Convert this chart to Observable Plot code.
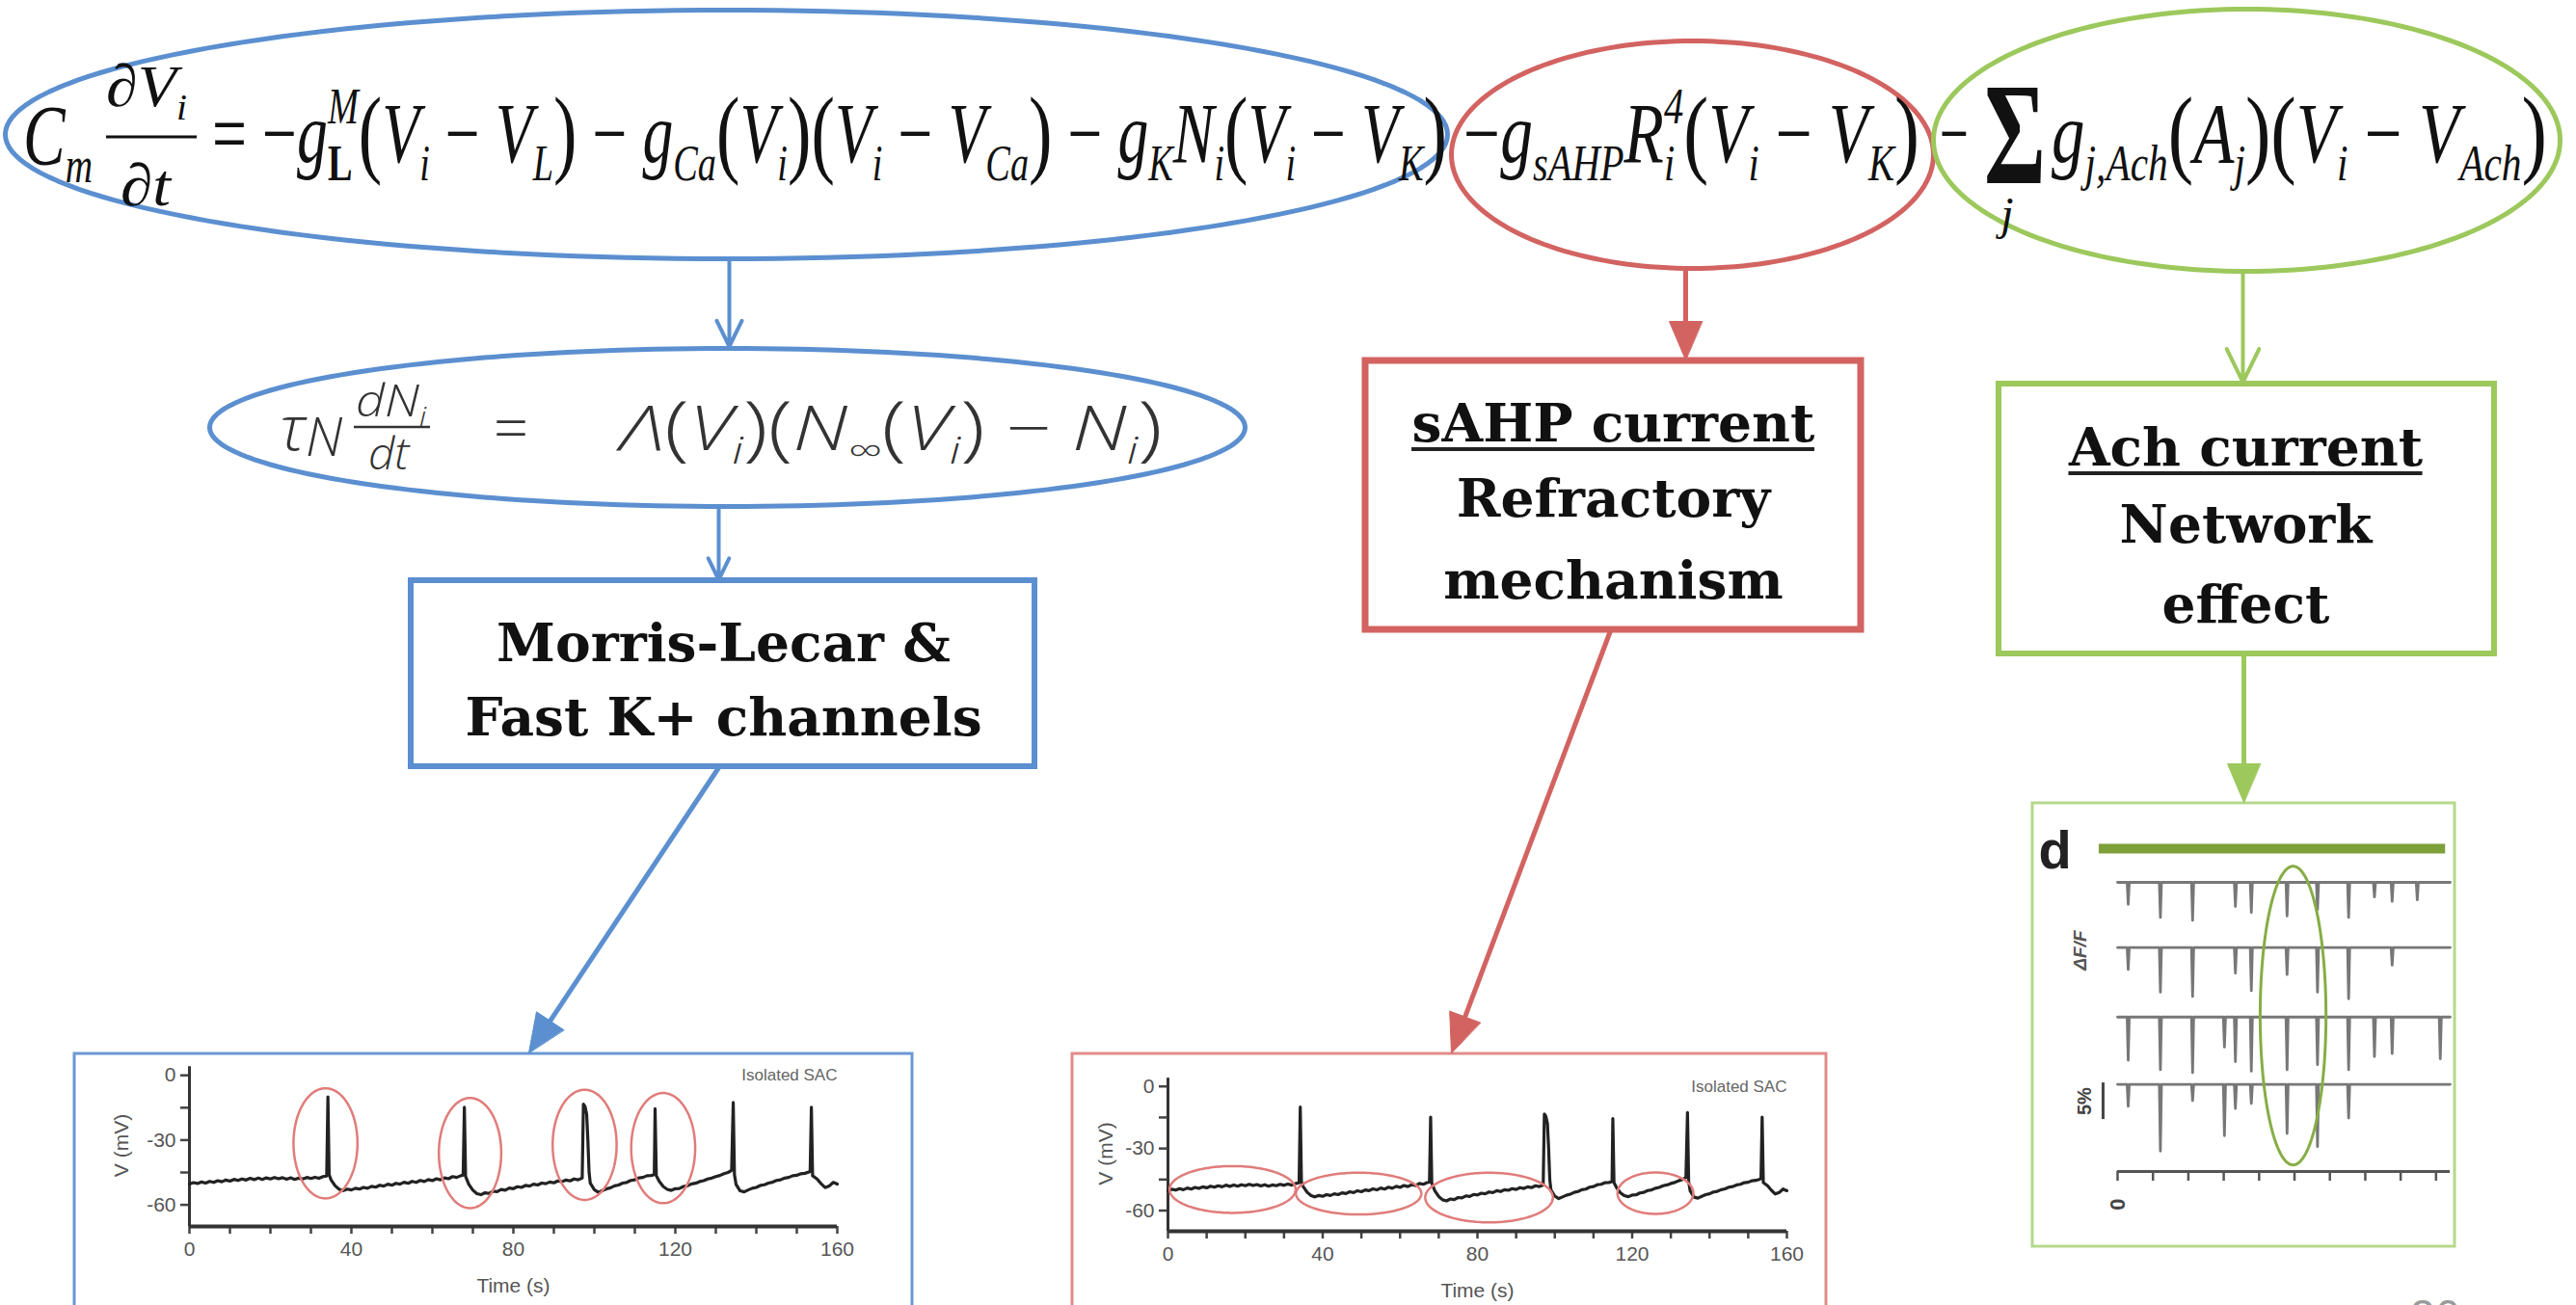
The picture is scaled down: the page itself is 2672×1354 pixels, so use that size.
<!DOCTYPE html>
<html><head><meta charset="utf-8">
<script src="https://cdn.jsdelivr.net/npm/d3@7"></script>
<script src="https://cdn.jsdelivr.net/npm/@observablehq/plot@0.6"></script>
<style>
html,body{margin:0;padding:0;background:#fff;overflow:hidden;}
#page{position:relative;width:2672px;height:1354px;overflow:hidden;background:#fff;}
#page > svg{position:absolute;max-width:none;}
</style></head><body><div id="page"></div>
<script>
// ===================== DATA =====================
// Membrane potential of an isolated SAC (time s, V mV)
const vmTrace = [
 [0,-50.3],[1,-49.7],[2,-50.1],[3,-49.4],[4,-49.9],[5,-49.1],[6,-49.6],[7,-48.8],[8,-49.3],[9,-48.5],
 [10,-49.0],[11,-48.2],[12,-48.7],[13,-48.0],[14,-48.5],[15,-47.7],[16,-48.3],[17,-47.6],[18,-48.2],[19,-47.5],
 [20,-48.0],[21,-47.3],[22,-47.9],[23,-47.4],[24,-48.1],[25,-47.5],[26,-48.2],[27,-47.6],[28,-48.0],[29,-47.3],
 [30,-47.8],[31,-47.2],[32,-47.7],[33,-46.9],[33.9,-46.6],[34.2,-10.0],[34.5,-46.0],
 [35,-48.5],[36,-51.2],[37,-52.8],[38,-53.4],[39,-52.7],[40,-53.1],[41,-52.3],[42,-52.7],[43,-51.9],[44,-52.3],
 [45,-51.4],[46,-51.8],[47,-50.9],[48,-51.3],[49,-50.4],[50,-50.9],[51,-50.0],[52,-50.4],[53,-49.5],[54,-50.0],
 [55,-49.1],[56,-49.6],[57,-48.7],[58,-49.2],[59,-48.3],[60,-48.8],[61,-47.9],[62,-48.4],[63,-47.5],[64,-47.9],
 [65,-46.9],[66,-47.3],[67,-46.5],[67.6,-46.2],[67.9,-14.8],[68.2,-46.8],
 [69,-50.5],[70,-53.2],[71,-54.8],[72,-55.3],[73,-54.4],[74,-54.7],[75,-53.7],[76,-53.9],[77,-52.9],[78,-53.2],
 [79,-52.2],[80,-52.5],[81,-51.6],[82,-51.9],[83,-51.0],[84,-51.3],[85,-50.4],[86,-50.8],[87,-49.9],[88,-50.2],
 [89,-49.4],[90,-49.8],[91,-48.9],[92,-49.3],[93,-48.5],[94,-48.9],[95,-48.0],[96,-48.4],[97,-47.6],
 [97.3,-13.3],[97.7,-14.5],[98.1,-18.0],[98.4,-30.0],[98.7,-45.0],
 [99,-50.0],[100,-53.0],[101,-54.2],[102,-53.4],[103,-52.6],[104,-52.1],[105,-51.2],[106,-50.8],[107,-49.9],
 [108,-49.6],[109,-48.7],[110,-48.4],[111,-47.5],[112,-47.3],[113,-46.5],[114,-46.4],[114.8,-46.0],[115.0,-15.5],[115.3,-46.5],
 [116,-49.0],[117,-51.5],[118,-52.8],[119,-53.3],[120,-52.5],[121,-52.4],[122,-51.5],[123,-51.2],[124,-50.3],
 [125,-50.0],[126,-49.2],[127,-48.8],[128,-48.0],[129,-47.6],[130,-46.9],[131,-46.4],[132,-45.6],[133,-45.0],
 [133.9,-44.0],[134.3,-12.6],[134.6,-46.0],
 [135,-50.5],[136,-53.5],[137,-54.0],[138,-53.1],[139,-52.3],[140,-51.9],[141,-51.0],[142,-50.7],[143,-49.9],
 [144,-49.5],[145,-48.7],[146,-48.4],[147,-47.6],[148,-47.3],[149,-46.5],[150,-46.3],[151,-45.6],[152,-45.4],
 [153,-44.8],[153.3,-44.5],[153.6,-14.8],[153.9,-46.5],
 [155,-48.0],[156,-50.2],[157,-52.0],[158,-51.3],[159,-49.6],[160,-50.4]
];
const sacTitle = "Isolated SAC";
const timeTicks = [0,10,20,30,40,50,60,70,80,90,100,110,120,130,140,150,160];
const timeLabels = [0,40,80,120,160];
const voltTicks = [0,-15,-30,-45,-60];
const voltLabels = [0,-30,-60];

// red rings around the spikes (blue panel): centre time, centre V, radii
const spikeRingT  = [33.6, 69.3, 97.6, 117.0];
const spikeRingV  = [-31.5, -36.0, -32.2, -33.7];
const spikeRingRt = [7.9, 7.7, 7.9, 7.9];
const spikeRingRv = [25.5, 25.5, 25.5, 25.5];
// red rings around the refractory periods (red panel)
const restRingT  = [16.7, 49.3, 83.0, 126.0];
const restRingV  = [-49.8, -51.8, -53.7, -51.6];
const restRingRt = [16.3, 16.2, 16.5, 9.8];
const restRingRv = [11.3, 10.1, 12.0, 10.0];

// calcium imaging panel "d": event times and amplitudes (ΔF/F, %) of 4 cells
const caEventTimes = [3.0, 12.1, 21.2, 30.2, 33.3, 37.8, 47.9, 56.5, 65.3, 72.6, 77.6, 84.7, 91.2];
const caAmp1 = [3.0, 4.8, 5.2, 0, 3.3, 4.1, 4.6, 3.7, 4.8, 2.0, 2.6, 2.4, 0];
const caAmp2 = [3.0, 6.1, 6.7, 0, 3.5, 5.9, 3.7, 6.1, 7.0, 0, 2.4, 0, 0];
const caAmp3 = [5.9, 7.2, 7.6, 4.1, 6.1, 7.4, 7.2, 6.5, 7.2, 5.4, 5.0, 0, 5.7];
const caAmp4 = [3.0, 9.1, 2.2, 7.0, 3.3, 2.6, 6.7, 8.5, 4.6, 0, 0, 0, 0];
const caOffsets = [0, -8.9, -18.4, -27.6];
const caTicks = [0,10,20,30,40,50,60,70,80,90];
const caRing = {t: 49.6, v: -18.2, rt: 9.3, rv: 20.4};

// texts
const mlLines = ["Morris-Lecar &", "Fast K+ channels"];
const sahpLines = ["sAHP current", "Refractory", "mechanism"];
const achLines = ["Ach current", "Network", "effect"];
const pageNumber = "26";
// equation pieces: [text, kind]
const eqCm   = [["C","i"],["m","sub"]];
const eqNum  = [["∂","i"],["V","i"],["i","sub"]];
const eqDen  = [["∂","i"],["t","i"]];
const eqBlue = [["=","n"],[" −","n"],["g","i"],["L","subB"],["M","supOver"],["(","p"],["V","i"],["i","sub"],[" − ","n"],["V","i"],["L","sub"],[")","p"],
  [" − ","n"],["g","i"],["Ca","sub"],["(","p"],["V","i"],["i","sub"],[")","p"],["(","p"],["V","i"],["i","sub"],[" − ","n"],["V","i"],["Ca","sub"],[")","p"],
  [" − ","n"],["g","i"],["K","sub"],["N","i"],["i","sub"],["(","p"],["V","i"],["i","sub"],[" − ","n"],["V","i"],["K","sub"],[")","p"]];
const eqRed  = [["−","n"],["g","i"],["sAHP","sub"],["R","i"],["i","sub"],["4","supOver"],["(","p"],["V","i"],["i","sub"],[" − ","n"],["V","i"],["K","sub"],[")","p"]];
const eqGreenMinus = [["−","n"]];
const eqSigma = [["Σ","n"]];
const eqSigmaIdx = [["j","i"]];
const eqGreen = [["g","i"],["j,Ach","sub"],["(","p"],["A","i"],["j","sub"],[")","p"],["(","p"],["V","i"],["i","sub"],[" − ","n"],["V","i"],["Ach","sub"],[")","p"]];
const eqTau  = [["τ","i"],["N","subL"]];
const eqNNum = [["dN","i"],["i","sub"]];
const eqNDen = [["dt","i"]];
const eqNEq  = [["=","n"]];
const eqNRhs = [["Λ","i"],["(","p"],["V","i"],["i","sub"],[")","p"],["(","p"],["N","i"],["∞","sub"],["(","p"],["V","i"],["i","sub"],[")","p"],[" − ","n"],["N","i"],["i","sub"],[")","p"]];

// ===================== LAYOUT & STYLE =====================
const C = {blue:"#5b8fd0", red:"#d26361", green:"#9cc85c", ring:"#e07c7a", bar:"#7ea03a", cring:"#86ad45",
           blueLite:"#6a98d4", redLite:"#e08c8a", greenLite:"#b5d88c"};
const layout = {
  ellipses: [
    {id:"eqBlue", cx:753, cy:139, rx:748, ry:129, color:C.blue, w:5},
    {id:"eqRed", cx:1755, cy:160, rx:250, ry:118, color:C.red, w:5},
    {id:"eqGreen", cx:2330, cy:145, rx:325, ry:136, color:C.green, w:5},
    {id:"eqN", cx:754, cy:443, rx:537, ry:82, color:C.blue, w:5}
  ],
  boxes: [
    {x1:426, x2:1073, y1:602, y2:795, color:C.blue, w:6},
    {x1:1416, x2:1930, y1:374, y2:653, color:C.red, w:7},
    {x1:2073, x2:2587, y1:398, y2:678, color:C.green, w:6},
    {x1:77, x2:946, y1:1093, y2:1380, color:C.blueLite, w:3},
    {x1:1112, x2:1894, y1:1093, y2:1380, color:C.redLite, w:3},
    {x1:2108, x2:2546, y1:833, y2:1293, color:C.greenLite, w:3}
  ],
  openArrows: [
    {x1:756, y1:270, x2:756, y2:359, color:C.blue},
    {x1:745, y1:527, x2:745, y2:601, color:C.blue},
    {x1:2326, y1:281, x2:2326, y2:396, color:C.green}
  ],
  filledArrows: [
    {x1:1748, y1:279, x2:1748, y2:373, color:C.red},
    {x1:745, y1:796, x2:548, y2:1092, color:C.blue},
    {x1:1670, y1:654, x2:1505, y2:1092, color:C.red},
    {x1:2327, y1:679, x2:2327, y2:832, color:C.green}
  ],
  mlText: {x:750, base:[685, 762]},
  sahpText: {x:1673, base:[457, 535, 620]},
  achText: {x:2329, base:[482, 562, 645]},
  boxFont: 55,
  page: {x:2525, y:1366},
  insets: [
    {left:77, top:1093, w:869, h:261, ml:119, mr:78, mt:11, mb:82, ylo:78},
    {left:1112, top:1093, w:782, h:261, ml:99, mr:41, mt:23, mb:77, ylo:72}
  ],
  inset3: {left:2108, top:833, w:438, h:460, ml:88, mr:5, mt:44, mb:78}
};

// ===================== HELPERS =====================
const ellipsePts = (id, cx, cy, rx, ry) => d3.range(0, 360, 2).map(a => ({id, x: cx + rx*Math.cos(a*Math.PI/180), y: cy + ry*Math.sin(a*Math.PI/180)}));
function filledArrow(a, L = 40, W = 17) {
  const dx = a.x2 - a.x1, dy = a.y2 - a.y1, len = Math.hypot(dx, dy), ux = dx/len, uy = dy/len;
  const bx = a.x2 - ux*L, by = a.y2 - uy*L;
  return {shaft: {x1:a.x1, y1:a.y1, x2:bx + ux*4, y2:by + uy*4, color:a.color},
          head: [{x:a.x2, y:a.y2}, {x:bx - uy*W, y:by + ux*W}, {x:bx + uy*W, y:by - ux*W}].map(p => ({...p, color:a.color, id:a.x1+"_"+a.y1}))};
}

const page = document.getElementById("page");

// ===================== MAIN DIAGRAM =====================
const fa = layout.filledArrows.map(a => filledArrow(a));
const lineMarks = [];
function addLines(lines, x, bases, key) {
  lines.forEach((t, i) => lineMarks.push({t, x, y: bases[i], key}));
}
addLines(mlLines, layout.mlText.x, layout.mlText.base, "ml");
addLines(sahpLines, layout.sahpText.x, layout.sahpText.base, "sahp");
addLines(achLines, layout.achText.x, layout.achText.base, "ach");

const main = Plot.plot({
  width: 2672, height: 1354, margin: 0,
  x: {domain: [0, 2672], range: [0, 2672], axis: null},
  y: {domain: [0, 1354], range: [0, 1354], axis: null},
  color: {type: "identity"},
  style: {background: "transparent", overflow: "visible"},
  marks: [
    ...layout.boxes.map(b => Plot.rect([b], {x1:"x1", x2:"x2", y1:"y1", y2:"y2", fill:"white", stroke:b.color, strokeWidth:b.w})),
    ...layout.ellipses.map(e => Plot.line(ellipsePts(e.id, e.cx, e.cy, e.rx, e.ry), {x:"x", y:"y", curve:"linear-closed", stroke:e.color, strokeWidth:e.w})),
    Plot.arrow(layout.openArrows, {x1:"x1", y1:"y1", x2:"x2", y2:"y2", stroke:"color", strokeWidth:4, headLength:34, headAngle:52}),
    Plot.link(fa.map(f => f.shaft), {x1:"x1", y1:"y1", x2:"x2", y2:"y2", stroke:"color", strokeWidth:5}),
    Plot.line(fa.flatMap(f => f.head), {x:"x", y:"y", z:"id", fill:"color", stroke:"color", strokeWidth:1, curve:"linear-closed"}),
    Plot.text(lineMarks, {x:"x", y:d => d.y - 0.32*layout.boxFont, text:"t", fontSize:layout.boxFont, fontWeight:"bold",
      fontFamily:"'DejaVu Serif', serif", fill:"#111", textAnchor:"middle"}),
    Plot.text([pageNumber], {x:layout.page.x, y:layout.page.y, fontSize:46, fill:"#9a9a9a", fontFamily:"'Liberation Sans', Arial"})
  ]
});
main.style.left = "0px"; main.style.top = "0px";
page.appendChild(main);

// underlines under the first line of sAHP and Ach boxes (width measured from the rendered text)
const svgMain = d3.select(main);
svgMain.selectAll("text").each(function() {
  const t = this.textContent;
  if (t === sahpLines[0] || t === achLines[0]) {
    const w = this.getComputedTextLength();
    const L = t === sahpLines[0] ? layout.sahpText : layout.achText;
    svgMain.append("line").attr("x1", L.x - w/2).attr("x2", L.x + w/2)
      .attr("y1", L.base[0] + 9).attr("y2", L.base[0] + 9).attr("stroke", "#222").attr("stroke-width", 4);
  }
});

// equations as real SVG text with tspans, squeezed horizontally to the reference width
const eqG = svgMain.append("g").attr("fill", "#111");
function mathText(parts, {x, y, size, length, family = "'Liberation Serif', 'Times New Roman', serif", fill = "#111", weight = "normal"}) {
  const t = eqG.append("text").attr("x", x).attr("y", y).attr("font-size", size)
    .attr("font-family", family).attr("fill", fill).attr("font-weight", weight);
  let cur = 0, prevSub = null;
  for (const [str, kind] of parts) {
    const s = t.append("tspan").text(str);
    let off = 0, scale = 1, italic = true, bold = false, dx = 0;
    if (kind === "n") { italic = false; }
    else if (kind === "p") { italic = false; scale = 1.15; off = 0.03; }
    else if (kind === "sub") { scale = 0.6; off = 0.22; }
    else if (kind === "subB") { scale = 0.6; off = 0.22; bold = true; italic = false; }
    else if (kind === "subL") { scale = 0.85; off = 0.1; }
    else if (kind === "supOver") { scale = 0.6; off = -0.45; dx = prevSub ? -prevSub.getComputedTextLength() : 0; }
    s.attr("font-size", size*scale).attr("font-style", italic ? "italic" : "normal");
    if (bold) s.attr("font-weight", "bold");
    const d = off*size - cur;
    if (Math.abs(d) > 0.01) s.attr("dy", d);
    cur = off*size;
    if (dx) s.attr("dx", dx);
    prevSub = (kind === "sub" || kind === "subB") ? s.node() : null;
  }
  if (length) {
    const bb = t.node().getBBox();
    const sx = length / bb.width;
    t.attr("transform", `translate(${x},0) scale(${sx},1) translate(${-bb.x},0)`);
  }
  return t;
}
// main membrane equation
mathText(eqCm, {x:24, y:170, size:88, length:72});
mathText(eqNum, {x:110, y:110, size:62, length:84});
eqG.append("line").attr("x1", 110).attr("x2", 204).attr("y1", 142).attr("y2", 142).attr("stroke", "#111").attr("stroke-width", 3);
mathText(eqDen, {x:125, y:213, size:62, length:54});
mathText(eqBlue, {x:220, y:168, size:88, length:1281});
mathText(eqRed, {x:1518, y:168, size:88, length:473});
mathText(eqGreenMinus, {x:2012, y:168, size:88, length:30});
mathText(eqSigma, {x:2058, y:190, size:150, length:64, weight:"bold"});
mathText(eqSigmaIdx, {x:2082, y:238, size:48});
mathText(eqGreen, {x:2128, y:168, size:88, length:514});
// gating equation
const sansF = "'Open Sans', 'Noto Sans', sans-serif";
mathText(eqTau, {x:290, y:467, size:64, length:66, family:sansF, fill:"#333", weight:300});
mathText(eqNNum, {x:369, y:432, size:46, length:74, family:sansF, fill:"#333", weight:300});
eqG.append("line").attr("x1", 367).attr("x2", 446).attr("y1", 443).attr("y2", 443).attr("stroke", "#333").attr("stroke-width", 2.5);
mathText(eqNDen, {x:382, y:487, size:46, length:44, family:sansF, fill:"#333", weight:300});
mathText(eqNEq, {x:530, y:467, size:64, family:sansF, fill:"#333", weight:300});
mathText(eqNRhs, {x:638, y:467, size:64, length:568, family:sansF, fill:"#333", weight:300});

// ===================== INSETS (membrane potential) =====================
function ringPts(T, V, RT, RV) {
  return T.flatMap((t, i) => ellipsePts(i, t, V[i], RT[i], RV[i]));
}
function sacInset(cfg, rings) {
  const p = Plot.plot({
    width: cfg.w, height: cfg.h,
    marginLeft: cfg.ml, marginRight: cfg.mr, marginTop: cfg.mt, marginBottom: cfg.mb,
    style: {background: "transparent", color: "#555", fontFamily: "'Liberation Sans', Arial, sans-serif", overflow: "visible"},
    x: {domain: [0, 160]},
    y: {domain: [-70, 5]},
    marks: [
      Plot.axisX({ticks: timeTicks, tickFormat: d => timeLabels.includes(d) ? String(d) : "", tickSize: 8, tickPadding: 8,
        fontSize: 21, stroke: "#444", strokeWidth: 2.5, label: "Time (s)", labelAnchor: "center", labelArrow: "none", labelOffset: 68}),
      Plot.axisY({ticks: voltTicks, tickFormat: d => voltLabels.includes(d) ? String(d) : "", tickSize: 9, tickPadding: 5,
        fontSize: 21, stroke: "#444", strokeWidth: 2.5, label: "V (mV)", labelAnchor: "center", labelArrow: "none", labelOffset: cfg.ylo}),
      Plot.ruleY([-70], {stroke: "#333", strokeWidth: 4}),
      Plot.ruleX([0], {y1: -70, y2: 4, stroke: "#333", strokeWidth: 3}),
      Plot.line(vmTrace, {x: d => d[0], y: d => d[1], stroke: "#222", strokeWidth: 3.2}),
      Plot.line(rings, {x: "x", y: "y", z: "id", curve: "linear-closed", stroke: C.ring, strokeWidth: 2.5}),
      Plot.text([sacTitle], {x: 160, y: 0, textAnchor: "end", fontSize: 17, fill: "#666"})
    ]
  });
  p.style.left = cfg.left + "px"; p.style.top = cfg.top + "px";
  page.appendChild(p);
}
sacInset(layout.insets[0], ringPts(spikeRingT, spikeRingV, spikeRingRt, spikeRingRv));
sacInset(layout.insets[1], ringPts(restRingT, restRingV, restRingRt, restRingRv));

// ===================== INSET d (calcium imaging) =====================
const caAmps = [caAmp1, caAmp2, caAmp3, caAmp4];
const caPts = caAmps.flatMap((amps, k) => {
  const off = caOffsets[k];
  const pts = [{k, t: 0, v: off}];
  caEventTimes.forEach((t, i) => {
    if (amps[i] > 0) pts.push({k, t: t - 0.3, v: off}, {k, t, v: off - amps[i]}, {k, t: t + 0.3, v: off});
  });
  pts.push({k, t: 94, v: off});
  return pts;
});
const L3 = layout.inset3;
const pd = Plot.plot({
  width: L3.w, height: L3.h, marginLeft: L3.ml, marginRight: L3.mr, marginTop: L3.mt, marginBottom: L3.mb,
  x: {domain: [0, 94]},
  y: {domain: [-39.5, 5], axis: null},
  style: {background: "transparent", color: "#444", fontFamily: "'Liberation Sans', Arial, sans-serif", overflow: "visible"},
  marks: [
    Plot.axisX({ticks: caTicks, tickFormat: d => d === 0 ? "0" : "", tickSize: 10, tickRotate: -90, tickPadding: 18,
      fontSize: 22, fontWeight: "bold", stroke: "#555", strokeWidth: 2.5, label: null}),
    Plot.ruleY([-39.5], {x1: 0, x2: 94, stroke: "#555", strokeWidth: 3}),
    Plot.ruleY([4.6], {x1: -5.2, x2: 92.7, stroke: C.bar, strokeWidth: 10}),
    Plot.line(caPts, {x: "t", y: "v", z: "k", stroke: "#777", strokeWidth: 2.8}),
    Plot.line(ellipsePts(0, caRing.t, caRing.v, caRing.rt, caRing.rv), {x: "x", y: "y", curve: "linear-closed", stroke: C.cring, strokeWidth: 3}),
    Plot.ruleX([-4.1], {y1: -27.4, y2: -32.4, stroke: "#444", strokeWidth: 3}),
    Plot.text(["5%"], {x: -9.2, y: -29.9, rotate: -90, fontSize: 20, fontWeight: "bold", fill: "#444"}),
    Plot.text(["ΔF/F"], {x: -10.6, y: -9.3, rotate: -90, fontSize: 19, fontStyle: "italic", fontWeight: "bold", fill: "#555"}),
    Plot.text(["d"], {frameAnchor: "top-left", dx: -82, dy: -16, lineAnchor: "top", textAnchor: "start", fontSize: 56, fontWeight: "bold", fill: "#222"})
  ]
});
pd.style.left = L3.left + "px"; pd.style.top = L3.top + "px";
page.appendChild(pd);
</script>
</body></html>
